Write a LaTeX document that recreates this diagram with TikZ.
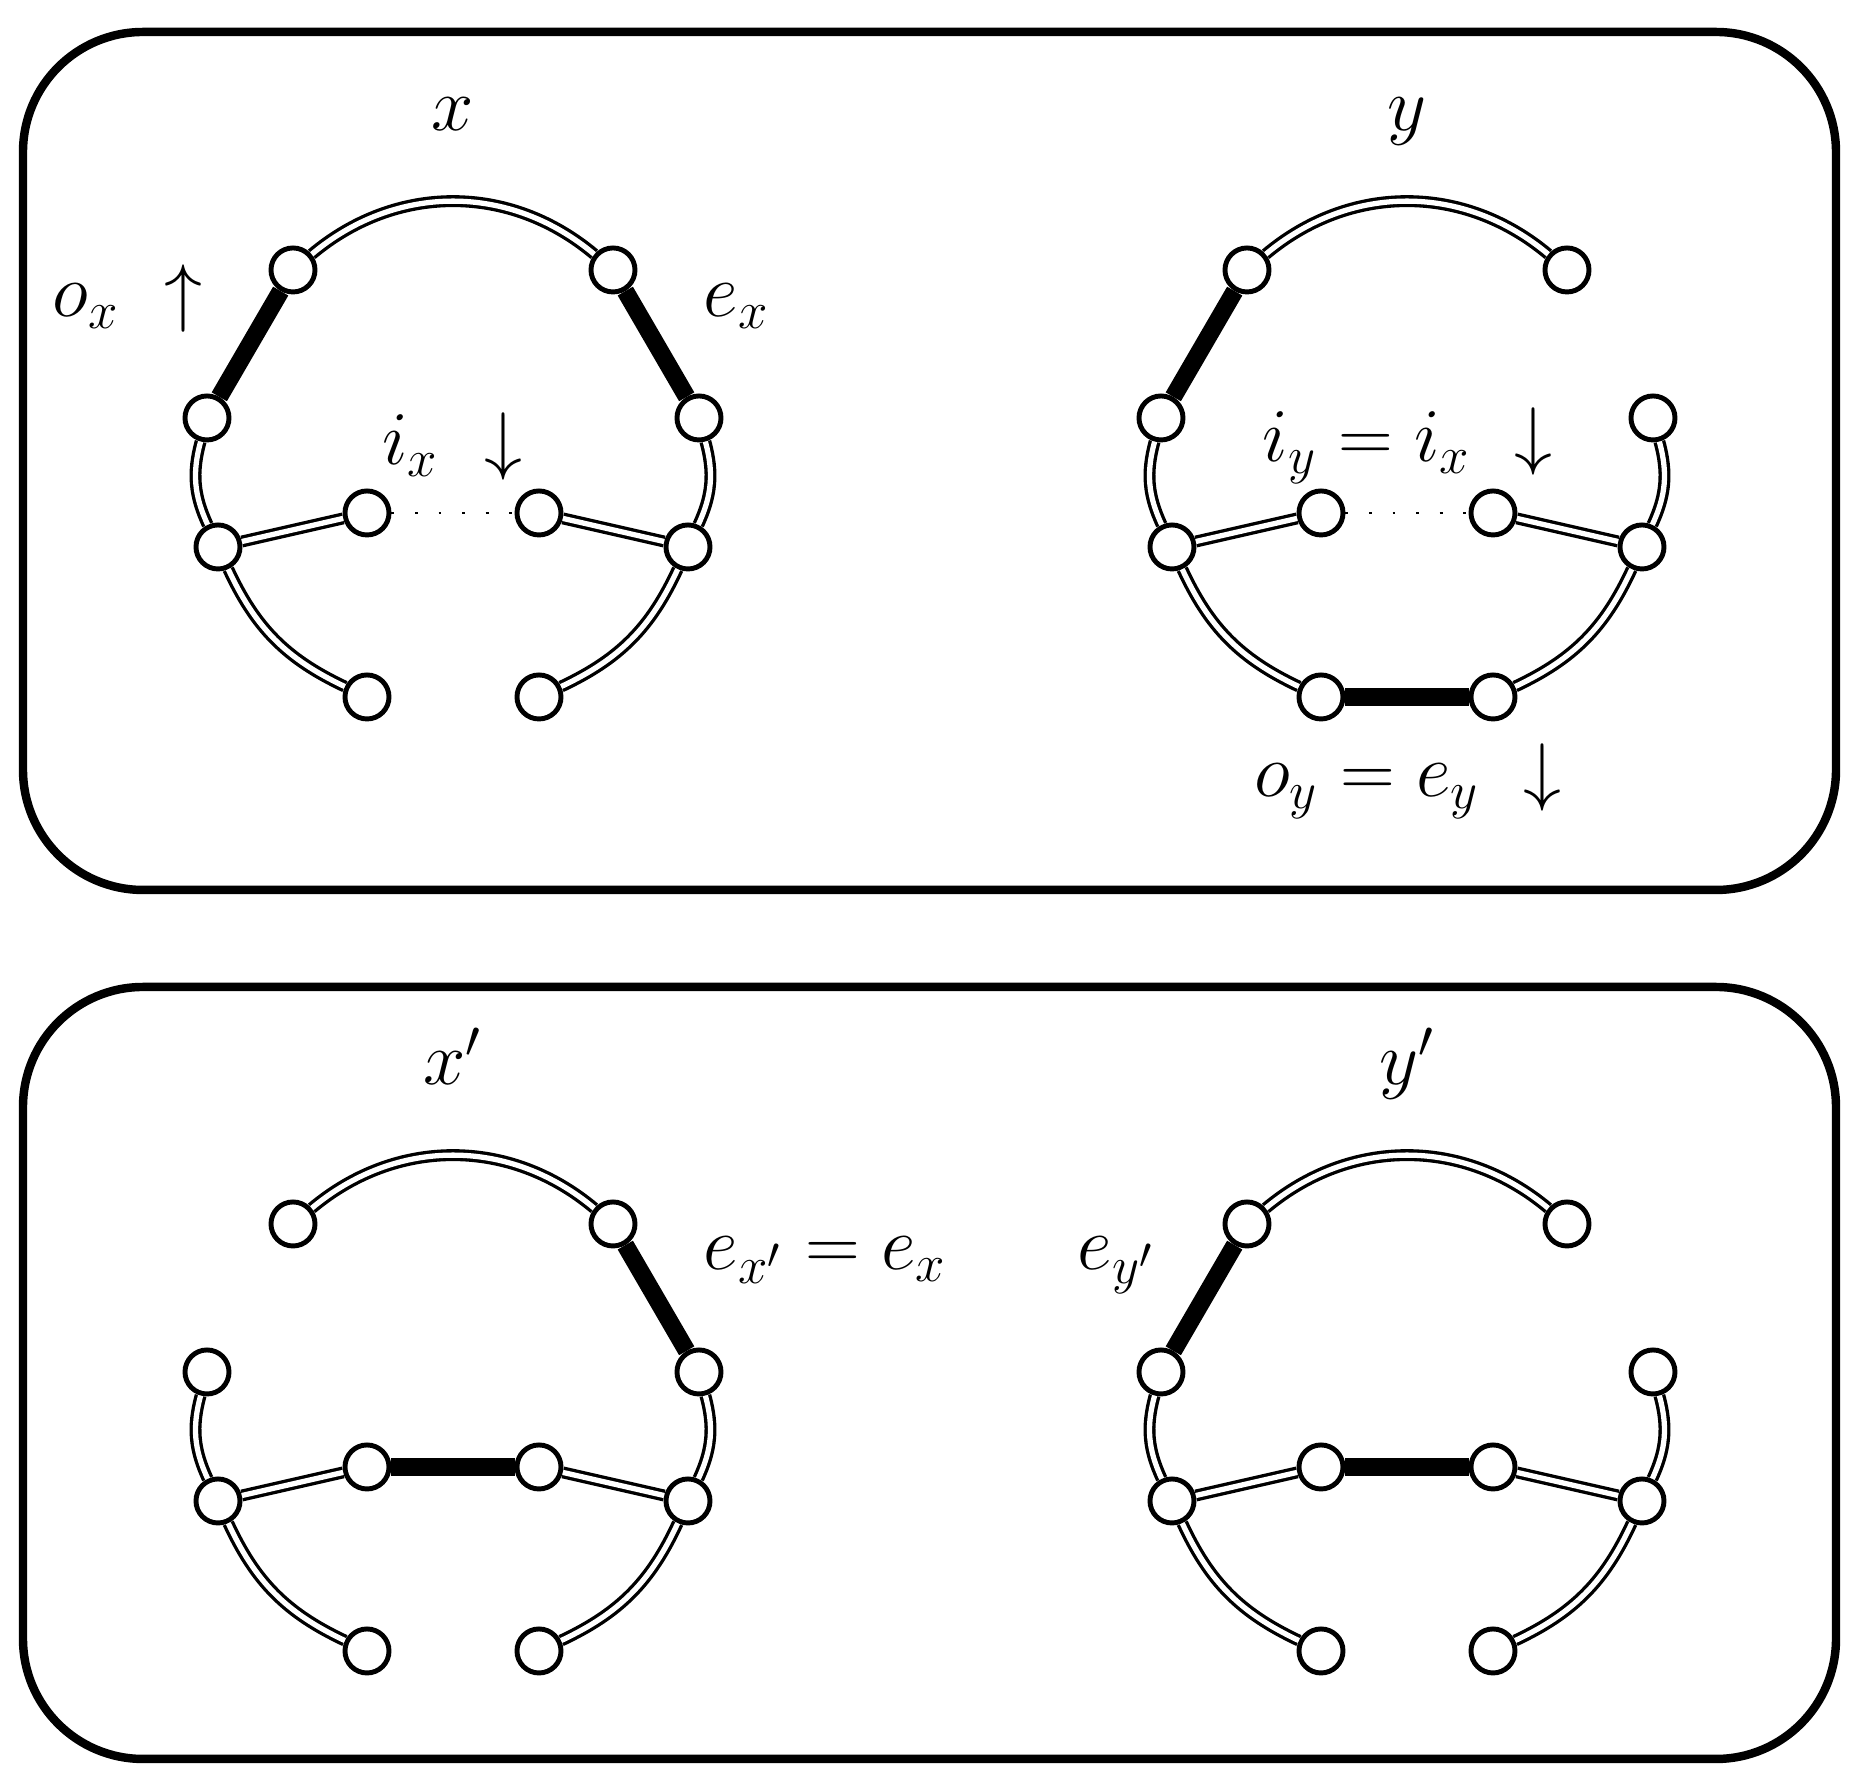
\documentclass[tikz,border=0pt]{standalone}
\usepackage{tikz}
\usepackage{amsmath}
\tikzstyle{vertexw}=[circle,draw,fill=white,line width=1.4pt,minimum size=0.44cm,inner sep=0pt]
\tikzstyle{dbl}=[double,double distance=1.5pt,line width=0.95pt]
\tikzstyle{heavy}=[line width=5pt]
\tikzstyle{dots}=[line width=0.8pt,dash pattern=on 0.8pt off 5.9pt]
\tikzstyle{panel}=[line width=2.4pt,rounded corners=1.2cm]
\tikzstyle{lbl}=[inner sep=0pt,font=\LARGE,scale=1.25,transform shape]

\begin{document}
\begin{tikzpicture}[x=0.01cm,y=0.01cm]
    \useasboundingbox (0,0) rectangle (1868,1792);
    \draw[panel] (23,902) rectangle (1836,1760);
    \draw[panel] (23,33) rectangle (1836,805);

    % the four graphs share one layout
    \foreach \g/\cx/\cy in {x/453/1792,y/1407/1792,xp/453/838,yp/1407/838}{
      \begin{scope}[shift={(\cx,\cy)}]
        \node[vertexw] (\g1) at (-160,-270) {};
        \node[vertexw] (\g2) at (160,-270) {};
        \node[vertexw] (\g3) at (-246,-418) {};
        \node[vertexw] (\g4) at (246,-418) {};
        \node[vertexw] (\g5) at (-235,-547) {};
        \node[vertexw] (\g6) at (235,-547) {};
        \node[vertexw] (\g7) at (-86,-513) {};
        \node[vertexw] (\g8) at (86,-513) {};
        \node[vertexw] (\g9) at (-86,-697) {};
        \node[vertexw] (\g10) at (86,-697) {};
      \end{scope}
    }

    \foreach \g in {x,y,xp,yp}{
      \draw[dbl] (\g1) to[bend left=40] (\g2);
      \draw[dbl] (\g3) to[bend right=20] (\g5);
      \draw[dbl] (\g5) to[bend right=20] (\g9);
      \draw[dbl] (\g4) to[bend left=20] (\g6);
      \draw[dbl] (\g6) to[bend left=20] (\g10);
      \draw[dbl] (\g5) -- (\g7);
      \draw[dbl] (\g8) -- (\g6);
    }

    \foreach \from/\to in {x1/x3,x2/x4,y1/y3,y9/y10,xp2/xp4,xp7/xp8,yp1/yp3,yp7/yp8}
    \draw[heavy] (\from) -- (\to);
    \foreach \from/\to in {x7/x8,y7/y8}
    \draw[dots] (\from) -- (\to);

    % labels
    \node[lbl,anchor=base] (tx) at (453,1661) {$x$};
    \node[lbl,anchor=base] (ty) at (1407,1661) {$y$};
    \node[lbl,anchor=base] (txp) at (453,707) {$x'$};
    \node[lbl,anchor=base] (typ) at (1407,707) {$y'$};
    \node[lbl,anchor=base] (ox) at (86,1475) {$o_x$};
    \node[lbl] (upx) at (183,1493) {$\uparrow$};
    \node[lbl,anchor=base west] (ex) at (703,1475) {$e_x$};
    \node[lbl,anchor=base] (ix) at (411,1327) {$i_x$};
    \node[lbl] (dnx) at (503,1345) {$\downarrow$};
    \node[lbl,anchor=base] (iy) at (1367,1330) {$i_y = i_x$};
    \node[lbl] (dniy) at (1533,1350) {$\downarrow$};
    \node[lbl,anchor=base] (oy) at (1367,995) {$o_y = e_y$};
    \node[lbl] (dnoy) at (1542,1014) {$\downarrow$};
    \node[lbl,anchor=base west] (exp) at (703,522) {$e_{x'} = e_x$};
    \node[lbl,anchor=base] (eyp) at (1117,522) {$e_{y'}$};
\end{tikzpicture}
\end{document}
